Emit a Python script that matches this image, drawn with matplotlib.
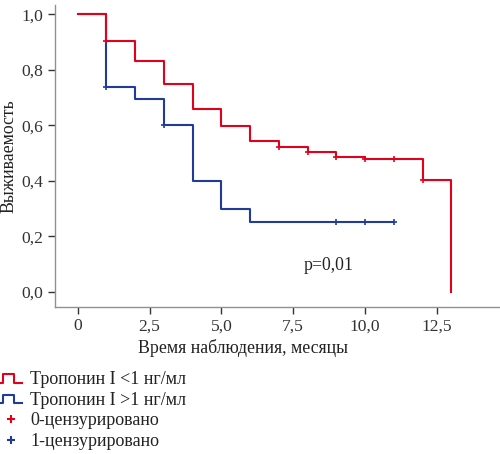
import matplotlib
matplotlib.use("Agg")
import matplotlib.pyplot as plt
from matplotlib.lines import Line2D
from matplotlib.legend_handler import HandlerBase
from matplotlib.ticker import FuncFormatter

plt.rcParams['font.family'] = ['Liberation Serif', 'DejaVu Serif']

# Data
red_times = [0, 1, 2, 3, 4, 5, 6, 7, 8, 9, 10, 12, 13]
red_surv = [1.0, 0.905, 0.83, 0.748, 0.66, 0.597, 0.543, 0.52, 0.503, 0.486, 0.48, 0.403, 0.0]
red_cens_t = [1, 7, 8, 9, 10, 11, 12]
red_cens_s = [0.905, 0.52, 0.503, 0.486, 0.48, 0.48, 0.403]

blue_times = [0, 1, 2, 3, 4, 5, 6, 11]
blue_surv = [1.0, 0.737, 0.693, 0.6, 0.4, 0.3, 0.25, 0.25]
blue_cens_t = [1, 3, 9, 10, 11]
blue_cens_s = [0.737, 0.6, 0.25, 0.25, 0.25]

xticks = [0, 2.5, 5.0, 7.5, 10.0, 12.5]
yticks = [0.0, 0.2, 0.4, 0.6, 0.8, 1.0]

labels = ["Тропонин I <1 нг/мл", "Тропонин I >1 нг/мл", "0-цензурировано", "1-цензурировано"]

RED = "#e3001b"
BLUE = "#1f3c9a"

fig = plt.figure(figsize=(5.0, 4.54), dpi=100)
ax = fig.add_axes([0.109, 0.323, 0.891, 0.666])

ax.step(blue_times, blue_surv, where='post', color=BLUE, lw=1.5)
ax.step(red_times, red_surv, where='post', color=RED, lw=1.5)
ax.plot(blue_cens_t, blue_cens_s, ls='none', marker='+', ms=5, mew=1.2, color=BLUE)
ax.plot(red_cens_t, red_cens_s, ls='none', marker='+', ms=5, mew=1.2, color=RED)

ax.set_xlim(-0.807, 14.69)
ax.set_ylim(-0.056, 1.033)
ax.set_xticks(xticks)
ax.set_yticks(yticks)
ax.xaxis.set_major_formatter(FuncFormatter(lambda v, p: "0" if v == 0 else f"{v:.1f}".replace('.', ',')))
ax.yaxis.set_major_formatter(FuncFormatter(lambda v, p: f"{v:.1f}".replace('.', ',')))
ax.tick_params(axis='both', labelsize=12.6, length=5, width=1, color='#333333', labelcolor='#333333', pad=3)

for s in ['top', 'right']:
    ax.spines[s].set_visible(False)
for s in ['left', 'bottom']:
    ax.spines[s].set_color('#909090')
    ax.spines[s].set_linewidth(1.0)

ax.set_xlabel("Время наблюдения, месяцы", fontsize=12.8, color='#222222')
ax.xaxis.set_label_coords(0.423, -0.105)
ax.set_ylabel("Выживаемость", fontsize=12.8, color='#222222')
ax.yaxis.set_label_coords(-0.084, 0.5)

ax.text(7.87, 0.096, "p=0,01", fontsize=12.8, color='#222222', va='center', ha='left')


class StepHandler(HandlerBase):
    def create_artists(self, legend, orig_handle, xdescent, ydescent, width, height, fontsize, trans):
        x0 = -xdescent
        y0 = -ydescent + height * 0.1
        y1 = -ydescent + height * 0.8
        xs = [x0, x0 + width * 0.15, x0 + width * 0.15, x0 + width * 0.65, x0 + width * 0.65, x0 + width]
        ys = [y0, y0, y1, y1, y0, y0]
        ln = Line2D(xs, ys, color=orig_handle.get_color(), lw=1.5, transform=trans)
        return [ln]


h_red = Line2D([], [], color=RED)
h_blue = Line2D([], [], color=BLUE)
h_rc = Line2D([], [], ls='none', marker='+', ms=6, mew=1.5, color=RED)
h_bc = Line2D([], [], ls='none', marker='+', ms=6, mew=1.5, color=BLUE)

fig.legend([h_red, h_blue, h_rc, h_bc], labels,
           handler_map={h_red: StepHandler(), h_blue: StepHandler()},
           loc='upper left', bbox_to_anchor=(0.0, 1 - 371 / 454), frameon=False,
           fontsize=13, handlelength=1.22, handletextpad=0.45, labelspacing=0.2,
           borderpad=0, borderaxespad=0, labelcolor='#222222')

fig.savefig("out.png", dpi=100)
